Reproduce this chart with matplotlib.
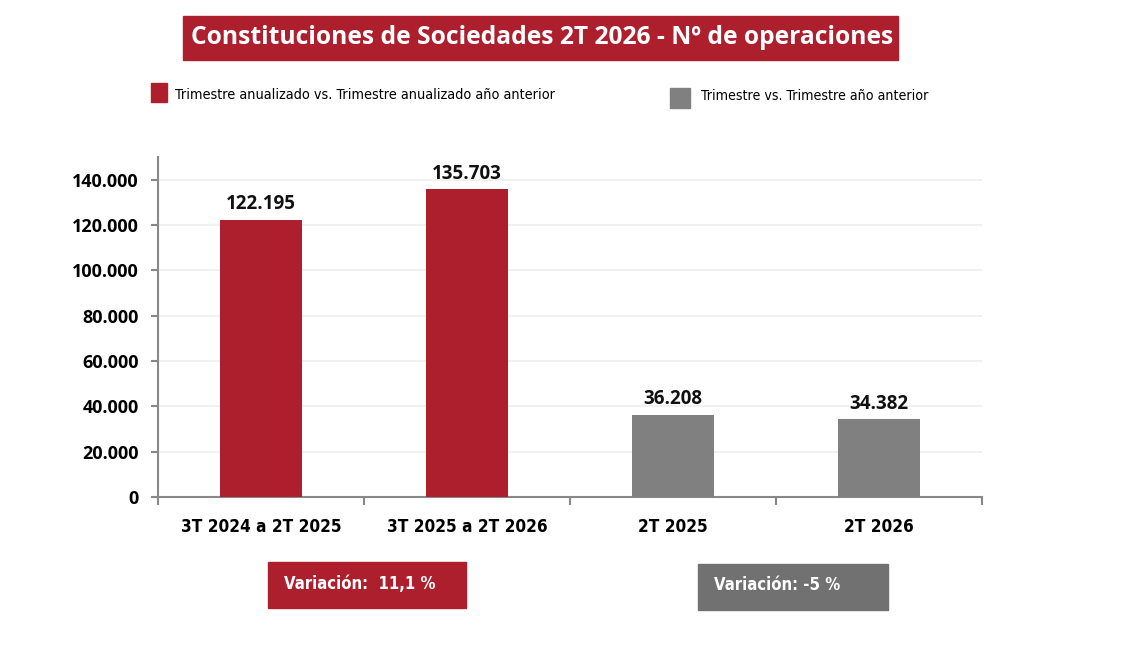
import matplotlib
matplotlib.use("Agg")
import matplotlib.pyplot as plt
from matplotlib.patches import Rectangle
from matplotlib.ticker import FuncFormatter, FixedLocator, NullFormatter

categories = ["3T 2024 a 2T 2025", "3T 2025 a 2T 2026", "2T 2025", "2T 2026"]
values = [122195, 135703, 36208, 34382]
series_groups = ["anual", "anual", "trim", "trim"]
legend_labels = ["Trimestre anualizado vs. Trimestre anualizado año anterior",
                 "Trimestre vs. Trimestre año anterior"]
title = "Constituciones de Sociedades 2T 2026 - Nº de operaciones"
variation_texts = ["Variación:  11,1 %", "Variación: -5 %"]

RED = "#AE1F2E"
GRAY = "#808080"
DGRAY = "#717171"
COND = dict(family="DejaVu Sans", stretch="condensed")
BOLD = ["Open Sans", "DejaVu Sans"]

W, H = 1131, 648
fig = plt.figure(figsize=(W / 100, H / 100), dpi=100)

def fx(px):
    return px / W

def fy(py):
    return 1 - py / H

ax = fig.add_axes([fx(158), fy(497), fx(982) - fx(158), fy(157) - fy(497)])
x = list(range(len(categories)))
colors = [RED if g == "anual" else GRAY for g in series_groups]
bars = ax.bar(x, values, width=0.4, color=colors, zorder=3)
ax.set_xlim(-0.5, len(categories) - 0.5)
ax.set_ylim(0, 150000)

yt = list(range(0, 140001, 20000))
ax.set_yticks(yt)
ax.yaxis.set_major_formatter(FuncFormatter(lambda v, p: f"{int(v):,}".replace(",", ".")))
for t in ax.get_yticklabels():
    t.set_fontweight("bold")
    t.set_fontsize(13)
    t.set_family(BOLD)
for v in yt[1:]:
    ax.axhline(v, color="#EFEFEF", lw=1.2, zorder=1)

ax.xaxis.set_major_locator(FixedLocator([i - 0.5 for i in range(len(categories) + 1)]))
ax.xaxis.set_major_formatter(NullFormatter())
ax.xaxis.set_minor_locator(FixedLocator(x))
ax.set_xticklabels(categories, minor=True)
ax.tick_params(axis="x", which="minor", length=0, pad=15)
for t in ax.get_xticklabels(minor=True):
    t.set_fontweight("bold")
    t.set_fontsize(12.3)
    t.set_family("DejaVu Sans")
    t.set_stretch("condensed")
ax.tick_params(axis="x", which="major", length=6, color="#888888", width=1.5, direction="out")
ax.tick_params(axis="y", length=5, color="#888888", width=1.5, direction="out", pad=9)

for s in ["top", "right"]:
    ax.spines[s].set_visible(False)
for s in ["left", "bottom"]:
    ax.spines[s].set_color("#888888")
    ax.spines[s].set_linewidth(1.5)

for b, v in zip(bars, values):
    ax.annotate(f"{v:,}".replace(",", "."), (b.get_x() + b.get_width() / 2, v),
                xytext=(0, 4), textcoords="offset points", ha="center", va="bottom",
                fontsize=13.5, fontweight="bold", family=BOLD, color="#111111")

# Title box
fig.patches.append(Rectangle((fx(183), fy(60)), fx(898) - fx(183), fy(16) - fy(60),
                             transform=fig.transFigure, color=RED, zorder=0))
fig.text((fx(183) + fx(898)) / 2 + 2 / W, (fy(60) + fy(16)) / 2, title, ha="center", va="center",
         color="white", fontsize=17.75, fontweight="bold", family=BOLD)

# Legend
fig.patches.append(Rectangle((fx(151), fy(102)), fx(167) - fx(151), fy(83) - fy(102),
                             transform=fig.transFigure, color=RED))
fig.text(fx(175), fy(95), legend_labels[0], ha="left", va="center", fontsize=10.4,
         color="black", **COND)
fig.patches.append(Rectangle((fx(670), fy(108)), fx(690) - fx(670), fy(88) - fy(108),
                             transform=fig.transFigure, color=GRAY))
fig.text(fx(701), fy(96), legend_labels[1], ha="left", va="center", fontsize=10.2,
         color="black", **COND)

# Variation boxes
fig.patches.append(Rectangle((fx(268), fy(608)), fx(466) - fx(268), fy(562) - fy(608),
                             transform=fig.transFigure, color=RED))
fig.text(fx(284), fy(584), variation_texts[0], ha="left", va="center", fontsize=12,
         fontweight="bold", color="white", **COND)
fig.patches.append(Rectangle((fx(698), fy(610)), fx(888) - fx(698), fy(564) - fy(610),
                             transform=fig.transFigure, color=DGRAY))
fig.text(fx(714), fy(585), variation_texts[1], ha="left", va="center", fontsize=12,
         fontweight="bold", color="white", **COND)

fig.savefig("out.png", dpi=100)
